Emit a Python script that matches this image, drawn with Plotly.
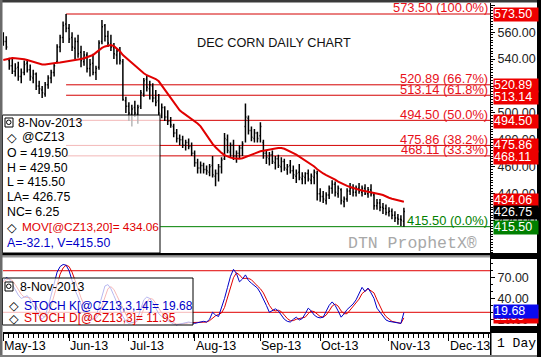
import plotly.graph_objects as go

# ---------------- data ----------------
month_labels = ["May-13", "Jun-13", "Jul-13", "Aug-13", "Sep-13", "Oct-13", "Nov-13", "Dec-13"]
month_start_idx = [0, 22, 42, 64, 86, 106, 129, 149]   # trading-day index of first session of month

opens = [556, 553, 539, 535, 531, 534, 527, 530, 537, 532,
         526, 529, 520, 517, 514, 521, 526, 530, 538, 549,
         556, 566, 563, 556, 548, 553, 545, 538, 543, 533,
         537, 530, 534, 553, 565, 557, 551, 549, 543, 546,
         538, 509, 505, 499, 504, 499, 505, 514, 525, 518,
         520, 511, 509, 499, 504, 497, 494, 490, 485, 481,
         480, 476, 478, 475, 470, 463, 459, 461, 458, 456,
         461, 453, 455, 460, 466, 480, 471, 476, 468, 470,
         474, 490, 496, 487, 481, 485, 483, 478, 470, 466,
         469, 463, 466, 460, 464, 458, 461, 457, 453, 456,
         451, 452, 455, 450, 452, 455, 440, 438, 435, 439,
         444, 447, 440, 443, 434, 436, 442, 444, 441, 444,
         441, 444, 440, 443, 439, 431, 433, 430, 429, 426,
         427, 424, 422, 421, 419.5]
highs = [560, 557, 541, 540, 537, 538, 533, 539, 540, 536,
         532, 530, 524, 520, 523, 528, 532, 537, 551, 558,
         568, 573.5, 566, 560, 556, 558, 550, 546, 545, 540,
         544, 535, 554, 569, 566, 561, 558, 552, 548, 549,
         540, 512, 508, 506, 509, 506, 517, 526, 528, 524,
         522, 517, 514, 507, 505, 502, 497, 492, 488, 484,
         483, 480, 481, 478, 472, 466, 464, 463, 461, 462,
         468, 458, 462, 467, 485, 484, 478, 480, 472, 476,
         479, 507, 498, 490, 488, 486, 493, 480, 472, 471,
         472, 468, 469, 467, 466, 462, 465, 461, 458, 462,
         456, 456, 458, 455, 458, 457, 444, 442, 441, 446,
         450, 449, 446, 444, 438, 444, 448, 447, 446, 448,
         446, 447, 445, 447, 441, 436, 436, 433, 432, 430,
         429, 427, 425, 424, 429.5]
lows = [550, 547, 532, 529, 527, 524, 522, 528, 530, 524,
        522, 517, 514, 511, 512, 518, 522, 527, 537, 545,
        552, 560, 552, 546, 540, 541, 534, 535, 530, 527,
        528, 524.5, 532, 551, 553, 549, 546, 540, 536, 536,
        509, 500, 494, 490, 497, 492, 503, 512, 516, 510,
        508, 505, 498, 496, 494, 491, 489, 482, 478, 476,
        474, 472, 473, 468, 460, 455, 455, 455, 454, 453,
        452, 445.5, 449, 455, 465, 470, 467, 465, 463, 466,
        468, 478, 484, 479, 478, 478, 478, 466, 462, 461,
        462, 458, 459, 456, 457, 454, 455, 451, 448, 450,
        447, 447, 449, 447, 447, 435, 434, 433, 432, 436,
        440, 438, 437, 432, 430, 434, 439, 438, 438, 440,
        438, 439, 437, 438, 428, 428, 427, 425, 424, 423,
        421, 419, 417, 416, 415.5]
closes = [553, 549, 535, 531, 533, 527, 530, 536, 532, 527,
          529, 520, 518, 515, 521, 526, 530, 535, 549, 556,
          565, 563, 555, 549, 553, 544, 539, 543, 533, 536,
          530, 533, 552, 564, 557, 552, 549, 544, 546, 539,
          510, 505, 500, 503, 500, 504, 515, 524, 519, 521,
          511, 508, 500, 504, 497, 494, 491, 485, 481, 480,
          476, 478, 475, 470, 463, 459, 461, 458, 457, 460,
          454, 455, 460, 465, 481, 472, 476, 468, 470, 474,
          477, 497, 487, 482, 485, 481, 490, 470, 467, 469,
          464, 466, 461, 464, 459, 460, 457, 454, 455, 452,
          453, 455, 451, 453, 456, 440, 438, 436, 439, 444,
          447, 441, 444, 435, 436, 442, 444, 441, 444, 442,
          444, 440, 443, 440, 431, 433, 430, 429, 426, 427,
          424, 422, 421, 420.5, 426.75]
ma20 = [539.3, 539.8, 540.3, 540.8, 540.7, 540.5, 540.2, 539.8, 539.3, 538.6,
        537.8, 537.0, 536.4, 536.0, 535.9, 536.1, 536.5, 536.9, 537.2, 537.5,
        537.8, 538.0, 538.4, 538.8, 539.2, 539.6, 540.0, 540.6, 541.3, 542.1,
        543.0, 544.8, 546.8, 548.3, 549.4, 550.2, 550.5, 549.6, 548.0, 545.8,
        543.0, 541.0, 539.0, 537.5, 535.2, 532.9, 530.8, 529.5, 528.0, 527.0,
        526.2, 525.2, 523.5, 520.5, 517.5, 514.8, 511.5, 508.2, 505.0, 502.0,
        500.2, 498.6, 497.2, 496.0, 494.3, 492.2, 490.0, 486.6, 483.0, 479.8,
        477.0, 474.5, 472.2, 470.3, 468.7, 467.6, 466.8, 466.3, 466.0, 466.0,
        466.4, 467.3, 468.3, 469.2, 470.0, 470.8, 471.5, 471.9, 472.2, 472.6,
        473.1, 473.6, 474.0, 474.0, 473.4, 472.5, 471.4, 470.2, 469.0, 467.6,
        466.0, 464.6, 463.3, 462.0, 460.2, 458.2, 456.3, 455.0, 453.8, 452.8,
        451.8, 450.5, 449.0, 447.8, 446.7, 445.8, 445.0, 444.2, 443.5, 442.9,
        442.4, 442.0, 441.6, 441.3, 440.8, 440.2, 439.6, 439.0, 437.8, 437.0,
        436.3, 435.7, 435.1, 434.6, 434.06]
stoch_k = [66, 70, 68, 60, 52, 45, 40, 42, 44, 38,
           30, 22, 14, 10, 15, 28, 45, 62, 78, 86,
           89, 88, 80, 66, 52, 42, 30, 20, 12, 8,
           10, 14, 28, 45, 58, 60, 54, 44, 34, 26,
           14, 7, 4, 5, 6, 12, 25, 38, 42, 40,
           34, 26, 18, 14, 12, 8, 5, 3, 2, 3,
           4, 5, 6, 5, 4, 5, 6, 7, 6, 10,
           20, 16, 14, 26, 40, 56, 72, 82, 76, 64,
           68, 74, 66, 62, 58, 55, 48, 40, 30, 20,
           22, 25, 22, 16, 10, 7, 6, 10, 13, 9,
           11, 18, 26, 22, 16, 13, 12, 13, 22, 30,
           35, 30, 22, 13, 18, 24, 28, 32, 38, 46,
           56, 50, 55, 48, 40, 26, 20, 14, 9, 7,
           6, 5, 4, 4, 19.68]
stoch_d = [64, 67, 68, 66, 60, 52, 46, 42, 42, 41,
           37, 30, 22, 15, 13, 18, 29, 45, 62, 75,
           84, 88, 86, 78, 66, 53, 41, 31, 21, 13,
           10, 11, 17, 29, 44, 54, 57, 53, 44, 35,
           25, 16, 8, 5, 5, 8, 14, 25, 35, 40,
           39, 33, 26, 19, 15, 11, 8, 5, 3, 3,
           3, 4, 5, 5, 5, 5, 5, 6, 6, 8,
           12, 15, 17, 19, 27, 41, 56, 70, 77, 74,
           69, 69, 69, 67, 62, 58, 54, 48, 39, 30,
           24, 22, 23, 21, 16, 11, 8, 8, 10, 11,
           11, 13, 18, 22, 21, 17, 14, 13, 16, 22,
           29, 32, 29, 22, 18, 18, 23, 28, 33, 39,
           47, 51, 54, 51, 48, 38, 29, 20, 14, 10,
           7, 6, 5, 4, 11.95]
fib_levels = [573.50, 520.89, 513.14, 494.50, 475.86, 468.11, 415.50]
fib_pcts = ["100.0%", "66.7%", "61.8%", "50.0%", "38.2%", "33.3%", "0.0%"]
price_ticks = [420, 440, 460, 480, 500, 520, 540, 560, 580]
stoch_ticks = [10, 40, 70]
stoch_bands = [80, 20]

last_close = closes[-1]
last_ma = ma20[-1]
last_k = stoch_k[-1]
last_d = stoch_d[-1]
x_idx = list(range(len(closes)))
fib_start = highs.index(max(highs))

# ---------------- layout helpers (pixel -> paper) ----------------
L_PX, R_PX, T_PX, B_PX = 3, 490, 3, 332
W, H = 541, 357


def px(xp):
    return (xp - L_PX) / (R_PX - L_PX)


def py(yp):
    return (B_PX - yp) / (B_PX - T_PX)


SANS = "Liberation Sans, Arial, sans-serif"
MONO = "Liberation Mono, Courier New, monospace"
RED = "#e00000"
FIBRED = "#d40000"
BLUE = "#0000c8"
GREEN = "#008000"

fig = go.Figure()
fig.add_trace(go.Ohlc(
    x=x_idx, open=opens, high=highs, low=lows, close=closes,
    increasing=dict(line=dict(color="black", width=1.5)),
    decreasing=dict(line=dict(color="black", width=1.5)),
    tickwidth=0.35, xaxis="x", yaxis="y", hoverinfo="skip", showlegend=False))
fig.add_trace(go.Scatter(x=x_idx, y=ma20, mode="lines", line=dict(color=RED, width=2),
                         xaxis="x", yaxis="y", hoverinfo="skip", showlegend=False))
fig.add_trace(go.Scatter(x=x_idx, y=stoch_d, mode="lines", line=dict(color=RED, width=1),
                         xaxis="x", yaxis="y2", hoverinfo="skip", showlegend=False))
fig.add_trace(go.Scatter(x=x_idx, y=stoch_k, mode="lines", line=dict(color=BLUE, width=1),
                         xaxis="x", yaxis="y2", hoverinfo="skip", showlegend=False))

shapes = []
# Fibonacci lines
for lvl in fib_levels:
    x0 = fib_start if lvl != min(fib_levels) else 52.5
    shapes.append(dict(type="line", xref="x", yref="y", x0=x0, x1=162.8, y0=lvl, y1=lvl,
                       line=dict(color=GREEN if lvl == min(fib_levels) else FIBRED, width=1),
                       layer="below"))
# stoch bands
for b in stoch_bands:
    shapes.append(dict(type="line", xref="paper", yref="y2", x0=0, x1=1, y0=b, y1=b,
                       line=dict(color=RED, width=1), layer="below"))


def rect(x0, y0, x1, y1, fill, line=None, layer="above", lw=1):
    return dict(type="rect", xref="paper", yref="paper", x0=px(x0), x1=px(x1), y0=py(y1), y1=py(y0),
                fillcolor=fill, line=dict(color=line or "rgba(0,0,0,0)", width=lw if line else 0),
                layer=layer)


# legend boxes (semi-transparent)
shapes.append(rect(2.5, 115, 160, 253, "rgba(255,255,255,0.72)", "black"))
shapes.append(rect(2.5, 278, 193, 325, "rgba(255,255,255,0.72)", "black"))
# icons
for yy in (118, 282):
    shapes.append(rect(5, yy, 13, yy + 9, "white", "black"))
    shapes.append(dict(type="circle", xref="paper", yref="paper", x0=px(6.5), x1=px(11),
                       y0=py(yy + 6.5), y1=py(yy + 2), line=dict(color="black", width=1),
                       fillcolor="rgba(0,0,0,0)", layer="above"))
# panel separators and frame
shapes.append(rect(0, 253, 541, 255.5, "black"))
shapes.append(rect(0, 256, 541, 257.5, "#9a9a9a"))
shapes.append(rect(490, 253, 537, 259, "black"))
shapes.append(rect(490, 326, 537, 333, "black"))
shapes.append(rect(490, 333, 491.5, 357, "black"))
shapes.append(rect(0, 0, 541, 2.5, "#3a3a3a"))
shapes.append(rect(0, 0, 2.5, 357, "#6a6a6a"))
shapes.append(rect(0, 355, 541, 357, "#808080"))
shapes.append(rect(537, 0, 541, 357, "black"))

ann = []


def text(xp, yp, s, color="black", size=12, family=SANS, xanchor="left", **kw):
    ann.append(dict(x=px(xp), y=py(yp), xref="paper", yref="paper", text=s, showarrow=False,
                    xanchor=xanchor, yanchor="middle", font=dict(family=family, size=size, color=color),
                    borderpad=0, **kw))


# title and watermark
text(196, 43, "DEC CORN DAILY CHART", "#111", 12.7)
text(347, 243, "DTN ProphetX®", "#a8a8a8", 16.5, MONO)

# fib labels
for lvl, pct in zip(fib_levels, fib_pcts):
    ann.append(dict(x=px(488.5), xref="paper", y=lvl, yref="y", yanchor="bottom", xanchor="right",
                    text=f"{lvl:.2f} ({pct})", showarrow=False, borderpad=0, yshift=-2.5,
                    font=dict(family=SANS, size=12.9,
                              color=GREEN if lvl == min(fib_levels) else "#e8101a")))

# right-hand value boxes
price_boxes = [(fib_levels[0], "#ee0000", 0), (fib_levels[1], "#ee0000", -1),
               (fib_levels[2], "#ee0000", -2), (fib_levels[3], "#ee0000", -1),
               (fib_levels[4], "#ee0000", -0.5), (fib_levels[5], "#ee0000", -1.5),
               (last_ma, "#ee0000", 1.5), (last_close, "black", -0.5),
               (fib_levels[6], GREEN, -0.5)]
for val, col, ys in price_boxes:
    ann.append(dict(x=px(492.5), xref="paper", y=val, yref="y", xanchor="left", yanchor="middle",
                    text=f"{val:.2f}", showarrow=False, bgcolor=col, width=44, height=12.5,
                    align="left", borderpad=0, yshift=ys,
                    font=dict(family=SANS, size=12.5, color="white")))
for val, col, ys in [(last_d, "#ee0000", 1), (last_k, "#0a0aee", 1.5)]:
    ann.append(dict(x=px(492.5), xref="paper", y=val, yref="y2", xanchor="left", yanchor="middle",
                    text=f"{val:.2f}", showarrow=False, bgcolor=col, width=44, height=12.5,
                    align="left", borderpad=0, yshift=ys,
                    font=dict(family=SANS, size=12.5, color="white")))

# upper legend
diamond = "<b>◇</b>"
text(17, 122.7, "8-Nov-2013", size=12.3)
text(5.5, 137.3, diamond, size=12.5, family="DejaVu Sans")
text(21, 137.3, "@CZ13", size=12.3)
text(6, 152.7, f"O = {opens[-1]:.2f}", size=12.3)
text(6, 167.5, f"H = {highs[-1]:.2f}", size=12.3)
text(6, 182.5, f"L = {lows[-1]:.2f}", size=12.3)
text(6, 197.3, f"LA= {last_close:.2f}", size=12.3)
text(6, 212.2, f"NC= {last_close - closes[-2]:.2f}", size=12.3)
text(5.5, 227.3, diamond, size=12.5, family="DejaVu Sans")
text(21, 227.3, f"MOV[@CZ13,20]= {last_ma:.2f}", RED, 11.8)
text(6, 242.7, f"A=-32.1, V={lows[-1]:.2f}", BLUE, 12.3)

# lower legend
text(19, 287.3, "8-Nov-2013", size=12.3)
text(7.5, 305.5, diamond, size=12.5, family="DejaVu Sans")
text(23, 305.5, f"STOCH K[@CZ13,3,14]= {last_k:.2f}", BLUE)
text(7.5, 318.3, diamond, size=12.5, family="DejaVu Sans")
text(23, 318.3, f"STOCH D[@CZ13,3]= {last_d:.2f}", RED)

# date labels
for idx, lab in zip(month_start_idx, month_labels):
    ann.append(dict(x=idx, xref="x", y=py(346), yref="paper", xanchor="left", yanchor="middle",
                    text=lab, showarrow=False, borderpad=0, xshift=0,
                    font=dict(family=SANS, size=12.5, color="black")))
text(496, 343.5, "1 Day", "black", 13, MONO)

fig.update_layout(
    width=W, height=H,
    margin=dict(l=L_PX, r=W - R_PX, t=T_PX, b=H - B_PX, pad=0),
    paper_bgcolor="white", plot_bgcolor="white",
    showlegend=False, hovermode=False,
    xaxis=dict(domain=[0, 1], range=[-0.1, 162.8], anchor="y2", showgrid=False, zeroline=False,
               showline=True, linecolor="black", linewidth=2, ticks="outside", tickmode="array",
               tickvals=month_start_idx, ticklen=7, tickcolor="black", tickwidth=1,
               showticklabels=False, rangeslider=dict(visible=False), fixedrange=True,
               minor=dict(ticks="outside", ticklen=4, tickcolor="black", tickmode="linear",
                          tick0=0, dtick=1.672)),
    yaxis=dict(domain=[py(253), 1], range=[395.94, 581.67], side="right", anchor="x",
               showgrid=False, zeroline=False, showline=True, linecolor="black", linewidth=1,
               ticks="outside", ticklen=4, tickcolor="black", tickmode="array", tickvals=price_ticks,
               tickformat=".2f", tickfont=dict(family=SANS, size=12.5, color="#222"),
               minor=dict(ticks="outside", ticklen=2, tickcolor="black", dtick=2, tick0=0),
               fixedrange=True),
    yaxis2=dict(domain=[0, py(257)], range=[-8.4, 99.8], side="right", anchor="x",
                showgrid=False, zeroline=False, showline=True, linecolor="black", linewidth=1,
                ticks="outside", ticklen=4, tickcolor="black", tickmode="array", tickvals=stoch_ticks,
                tickformat=".2f", tickfont=dict(family=SANS, size=12.5, color="#222"),
                minor=dict(ticks="outside", ticklen=2, tickcolor="black", dtick=10, tick0=0),
                fixedrange=True),
    shapes=shapes, annotations=ann,
)

fig.write_html("out.html")
